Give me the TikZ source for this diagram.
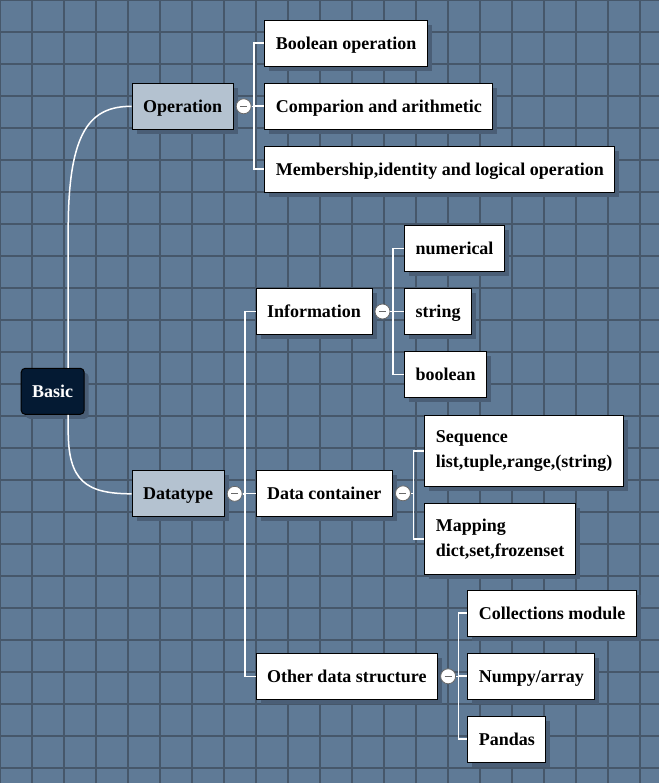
\documentclass[tikz,border=0pt]{standalone}
\usepackage{fontspec}
\setmainfont{Liberation Serif}
\usetikzlibrary{shadows,calc}

\definecolor{backc}{RGB}{95,122,150}
\definecolor{gridc}{RGB}{70,87,106}
\definecolor{shadc}{RGB}{74,94,118}
\definecolor{catc}{RGB}{180,194,208}
\definecolor{rootc}{RGB}{4,26,51}
\definecolor{foldc}{RGB}{105,105,105}

\tikzset{
  box/.style={draw=black, line width=1pt, anchor=west, align=left, inner xsep=11pt,
    minimum height=46pt, font=\fontsize{18}{25}\selectfont\bfseries,
    drop shadow={shadow xshift=4.5pt, shadow yshift=-4.5pt, fill=shadc, opacity=1}},
  leaf/.style={box, fill=white, text height=12pt, text depth=0pt},
  leaftwo/.style={box, fill=white, minimum height=71pt},
  cat/.style={leaf, fill=catc},
  root/.style={leaf, fill=rootc, text=white, rounded corners=4pt},
  fold/.style={circle, draw=foldc, fill=white, inner sep=0pt, minimum size=15pt, line width=0.8pt,
    path picture={\draw[line width=1pt] ([xshift=-3.5pt]path picture bounding box.center)
      -- ([xshift=3.5pt]path picture bounding box.center);}},
  link/.style={draw=white, line width=1.5pt},
}

\begin{document}
\begin{tikzpicture}[x=1pt,y=-1pt]
  % background and grid
  \useasboundingbox (0,0) rectangle (659,783);
  \fill[backc] (0,0) rectangle (659,783);
  \draw[gridc, line width=1.2pt, step=32pt] (0,0) grid (659,783);

  % main nodes
  \node[root] (basic) at (20.7,391.3) {Basic};
  \node[cat] (operation) at (131.7,106.3) {Operation};
  \node[cat] (datatype) at (131.7,493.8) {Datatype};

  \node[leaf] (boolop) at (264.3,43.2) {Boolean operation};
  \node[leaf] (compar) at (264.3,106.2) {Comparion and arithmetic};
  \node[leaf] (member) at (264.3,169.2) {Membership,identity and logical operation};

  \node[leaf] (info) at (255.5,311.5) {Information};
  \node[leaf] (contain) at (255.5,493.3) {Data container};
  \node[leaf] (other) at (255.5,676.3) {Other data structure};

  \node[leaf] (numer) at (404,248.3) {numerical};
  \node[leaf] (str) at (404,311.5) {string};
  \node[leaf] (bool) at (404,374.3) {boolean};

  \node[leaftwo] (seq) at (424.3,450.8) {Sequence\\list,tuple,range,(string)};
  \node[leaftwo] (mapping) at (424.3,538.8) {Mapping\\dict,set,frozenset};

  \node[leaf] (collect) at (467.3,613.2) {Collections module};
  \node[leaf] (numpy) at (467.3,676.2) {Numpy/array};
  \node[leaf] (pandas) at (467.3,739.2) {Pandas};

  % root curves
  \draw[link] ([xshift=15.5pt]basic.north) -- ++(0,-138)
    .. controls +(0,-100) and +(-41,0) .. (operation.west);
  \draw[link] ([xshift=15.5pt]basic.south) -- ++(0,16)
    .. controls +(0,50) and +(-46,0) .. (datatype.west);

  % fold buttons
  \foreach \p/\f in {operation/opfold, datatype/dtfold, info/infofold,
      contain/ctfold, other/otfold}
    \node[fold] (\f) at ([xshift=10pt]\p.east) {};

  % branch links
  \foreach \f/\c in {opfold/boolop, opfold/compar, opfold/member,
      dtfold/info, dtfold/contain, dtfold/other,
      infofold/numer, infofold/str, infofold/bool,
      ctfold/seq, ctfold/mapping,
      otfold/collect, otfold/numpy, otfold/pandas}
    \draw[link] (\f.east) -- ++(2.5,0) |- (\c.west);
\end{tikzpicture}
\end{document}
